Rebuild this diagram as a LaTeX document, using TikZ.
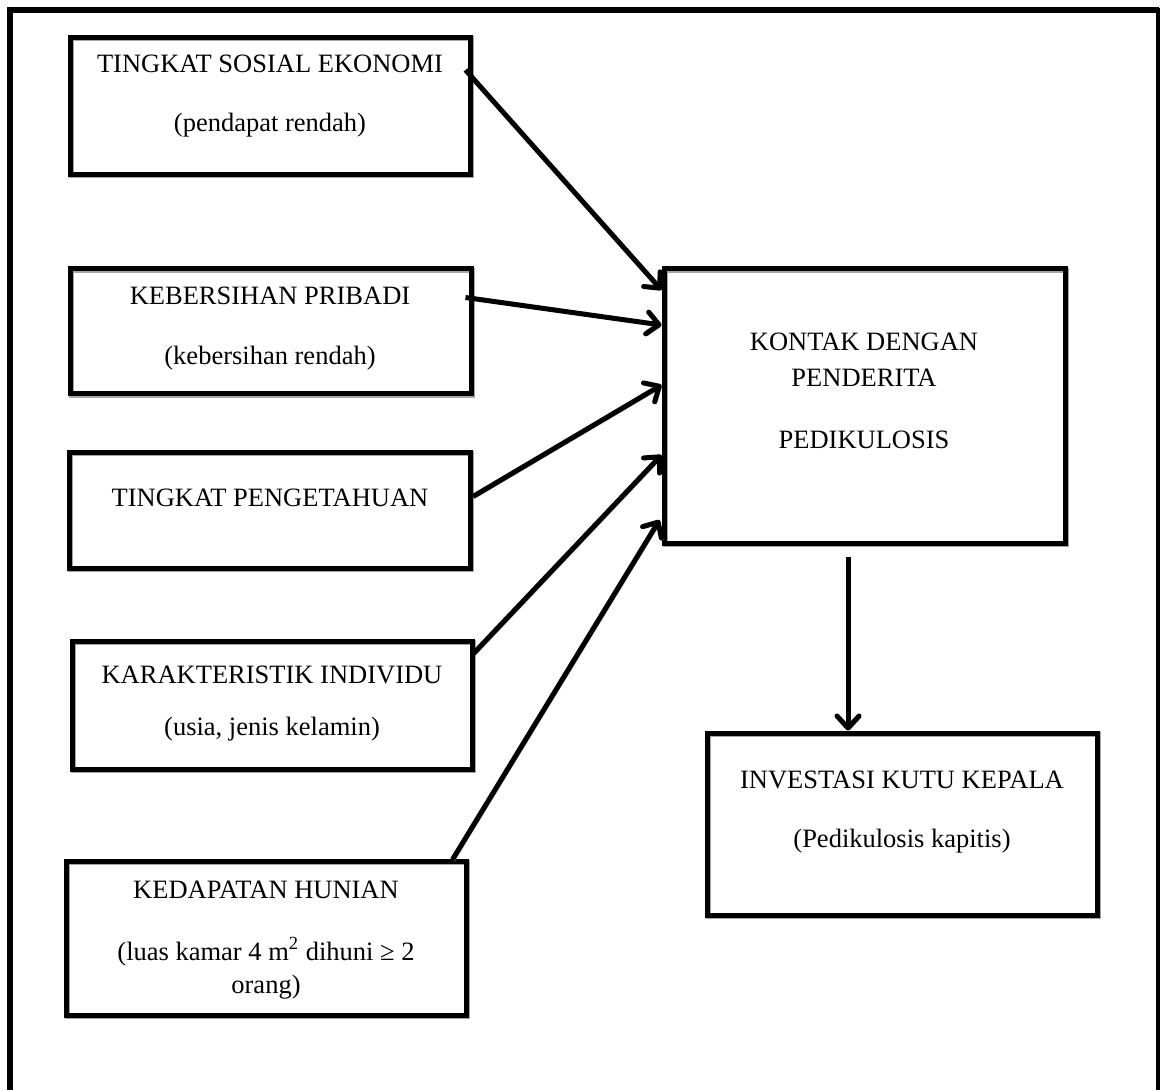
\documentclass[tikz,border=0pt]{standalone}
\usepackage{fontspec}
\setmainfont{Liberation Serif}
\usetikzlibrary{arrows.meta,calc}
\begin{document}
\begin{tikzpicture}[x=0.5pt,y=-0.5pt,
  box/.style={draw,line width=2.5pt,rectangle,inner sep=0pt,
    preaction={draw=black!35,line width=2.5pt,transform canvas={shift={(0.6pt,-0.6pt)}}}},
  txt/.style={anchor=base,inner sep=0pt,font=\fontsize{13.25pt}{15pt}\selectfont},
  conn/.style={line width=2.5pt,-{Straight Barb[length=6pt,width=11pt,round]},
    preaction={draw=black!35,transform canvas={shift={(0.9pt,-0.9pt)}}}}]
\useasboundingbox (0,0) rectangle (1160,1090);
% outer frame (cut at bottom)
\draw[line width=3pt] (10,1100) -- (10,10) -- (1159,10);
\draw[line width=2pt] (1158,8.5) -- (1158,1100);

% boxes
\node[box,minimum width=200pt,minimum height=68.5pt] (b1) at (270,106) {};
\node[box,minimum width=200.5pt,minimum height=62.5pt] (b2) at (270.5,331.5) {};
\node[box,minimum width=200.5pt,minimum height=58pt] (b3) at (270,510) {};
\node[box,minimum width=200pt,minimum height=64pt] (b4) at (272,705) {};
\node[box,minimum width=200pt,minimum height=77pt] (b5) at (266,938) {};
\node[box,minimum width=200.5pt,minimum height=137pt] (ctr) at (864.5,406) {};
\node[box,minimum width=195pt,minimum height=91pt] (bot) at (902,824) {};

% texts
\node[txt] (t1a) at (270,73) {TINGKAT SOSIAL EKONOMI};
\node[txt] (t1b) at (270,132) {(pendapat rendah)};
\node[txt] (t2a) at (270,305) {KEBERSIHAN PRIBADI};
\node[txt] (t2b) at (270,365) {(kebersihan rendah)};
\node[txt] (t3a) at (270,506) {TINGKAT PENGETAHUAN};
\node[txt] (t4a) at (272,683) {KARAKTERISTIK INDIVIDU};
\node[txt] (t4b) at (272,735) {(usia, jenis kelamin)};
\node[txt] (t5a) at (266,898) {KEDAPATAN HUNIAN};
\node[txt] (t5b) at (266,960) {(luas kamar 4 m\textsuperscript{2} dihuni ≥ 2};
\node[txt] (t5c) at (266,993) {orang)};
\node[txt] (tca) at (864,351) {KONTAK DENGAN};
\node[txt] (tcb) at (864,387) {PENDERITA};
\node[txt] (tcc) at (864,449) {PEDIKULOSIS};
\node[txt] (tda) at (902,788) {INVESTASI KUTU KEPALA};
\node[txt] (tdb) at (902,847) {(Pedikulosis kapitis)};

% connectors
\draw[conn] ($(b1.north east)+(-7,35)$) -- ($(ctr.west)+(0,-116)$);
\draw[conn] ($(b2.north east)+(-8,31)$) -- ($(ctr.west)+(0,-81)$);
\draw[conn] ($(b3.north east)+(0,47)$) -- ($(ctr.west)+(0,-21)$);
\draw[conn] ($(b4.north east)+(-1,15)$) -- ($(ctr.west)+(0,49)$);
\draw[conn] ($(b5.north east)+(-16,1)$) -- ($(ctr.west)+(-2,114)$);
\draw[conn] ($(ctr.south)+(-16.5,11.5)$) -- ($(bot.north)+(-54,0)$);
\end{tikzpicture}
\end{document}
